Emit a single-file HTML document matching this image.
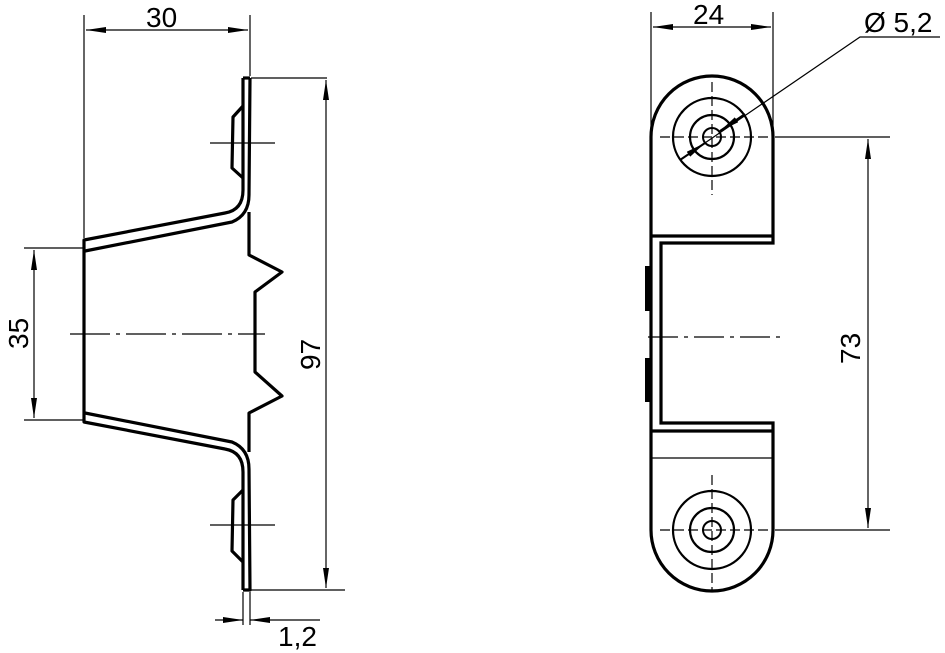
<!DOCTYPE html>
<html><head><style>body{margin:0;background:#fff}svg{display:block}text{font-family:"Liberation Sans",sans-serif;font-size:28px;fill:#000}</style></head><body>
<svg width="945" height="653" viewBox="0 0 945 653" xmlns="http://www.w3.org/2000/svg">
<defs><marker id="a" viewBox="0 0 20 6" refX="20" refY="3" markerWidth="20" markerHeight="6" markerUnits="userSpaceOnUse" orient="auto-start-reverse"><path d="M0,0L20,3L0,6z"/></marker></defs>
<g fill="none" stroke="#000">
<g stroke-width="3.2" stroke-linejoin="round">
<path d="M243,78 L243,190 Q243,210 225,213 L84,240 L84,422 L225,449 Q243,452 243,472 L243,590"/>
<path d="M250,78 L249,195 Q249,215 232,222 L85,251"/>
<path d="M85,413 L232,442 Q249,449 249,469 L250,590 L243,590"/>
<path d="M243,78 L250,78"/>
<path d="M249,212 L249,255 L282,272 L255,292 L255,372 L282,396 L249,413 L249,452"/>
<path d="M243,106 L233,117 L232,168 L243,178"/>
<path d="M243,490 L233,500 L232,551 L243,562"/>
</g>
<g stroke-width="1.2">
<path d="M84,15 V238 M250,15 V76 M251,78 H327 M251,590 H345 M24,248 H84 M24,420 H84"/>
<path d="M243,592 V625 M250,592 V625"/>
<path d="M70,334 H265" stroke-dasharray="40,6,4,6"/>
<path d="M210,143 H275 M210,525 H275"/>
<path d="M86,30 H248" marker-start="url(#a)" marker-end="url(#a)"/>
<path d="M326,80 V588" marker-start="url(#a)" marker-end="url(#a)"/>
<path d="M34,250 V418" marker-start="url(#a)" marker-end="url(#a)"/>
<path d="M215,620 H243" marker-end="url(#a)"/>
<path d="M320,620 H250" marker-end="url(#a)"/>
</g>
<g stroke-width="3.2">
<path d="M651,137 A61,61 0 0 1 773,137 L773,243 L661,243 L661,423 L773,423 L773,530 A61,61 0 0 1 651,530 Z"/>
<path d="M651,236 H773 M651,431 H773"/>
<circle cx="712" cy="137" r="9" stroke-width="2"/><circle cx="712" cy="137" r="22" stroke-width="2.2"/><circle cx="712" cy="137" r="39" stroke-width="2.2"/>
<circle cx="712" cy="530" r="9" stroke-width="2"/><circle cx="712" cy="530" r="22" stroke-width="2.2"/><circle cx="712" cy="530" r="39" stroke-width="2.2"/>
</g>
<rect x="645" y="266" width="5" height="45" fill="#000" stroke="none"/>
<rect x="645" y="358" width="5" height="44" fill="#000" stroke="none"/>
<g stroke-width="1.2">
<path d="M651,458 H773"/>
<path d="M651,12 V130 M773,12 V130 M775,137 H890 M775,530 H890"/>
<path d="M660,137 H770 M712,82 V195 M660,530 H770 M712,475 V590" stroke-dasharray="10,4"/>
<path d="M648,337 H782" stroke-dasharray="30,6,4,6"/>
<path d="M653,27 H771" marker-start="url(#a)" marker-end="url(#a)"/>
<path d="M868,139 V528" marker-start="url(#a)" marker-end="url(#a)"/>
<path d="M940,37 H860 L680,160"/>
<path d="M745,114 L720,131" marker-end="url(#a)" stroke-width="2"/>
<path d="M680,160 L705,143" marker-end="url(#a)" stroke-width="2"/>
</g>
</g>
<text x="146" y="27">30</text>
<text x="693" y="24">24</text>
<text x="864" y="32">Ø 5,2</text>
<text x="278" y="646">1,2</text>
<text transform="translate(28,349) rotate(-90)">35</text>
<text transform="translate(320,370) rotate(-90)">97</text>
<text transform="translate(860,364) rotate(-90)">73</text>
</svg>
</body></html>
